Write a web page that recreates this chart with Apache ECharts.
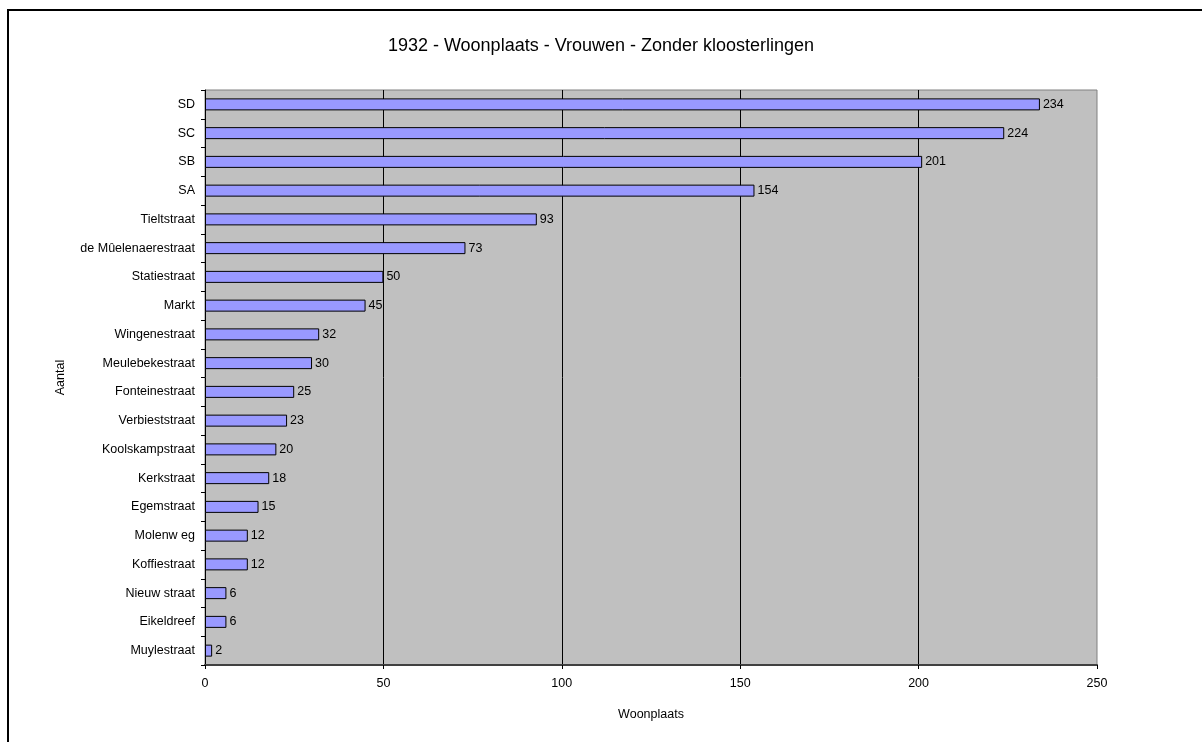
<!DOCTYPE html>
<html>
<head>
<meta charset="utf-8">
<title>1932 - Woonplaats - Vrouwen</title>
<script src="https://cdn.jsdelivr.net/npm/echarts@6/dist/echarts.min.js"></script>
<style>
  html, body { margin: 0; padding: 0; background: #fff; }
  #chart { width: 1202px; height: 742px; }
</style>
</head>
<body>
<div id="chart"></div>
<script>
// straten, van boven naar onder
var straten = [
  "SD", "SC", "SB", "SA", "Tieltstraat", "de Mûelenaerestraat", "Statiestraat",
  "Markt", "Wingenestraat", "Meulebekestraat", "Fonteinestraat", "Verbieststraat",
  "Koolskampstraat", "Kerkstraat", "Egemstraat", "Molenw eg", "Koffiestraat",
  "Nieuw straat", "Eikeldreef", "Muylestraat"
];
// aantal vrouwen per straat
var aantallen = [234, 224, 201, 154, 93, 73, 50, 45, 32, 30, 25, 23, 20, 18, 15, 12, 12, 6, 6, 2];
// schaal van de x-as
var asMin = 0;
var asMax = 250;
var asStap = 50;

var fontNaam = "'Liberation Sans', Arial, sans-serif";

var myChart = echarts.init(document.getElementById("chart"));

var option = {
  backgroundColor: "#ffffff",
  animation: false,
  // buitenkader rond de grafiek
  graphic: [
    {
      type: "rect",
      shape: { x: 8, y: 10, width: 1300, height: 800 },
      style: { fill: "none", stroke: "#000", lineWidth: 2 },
      silent: true
    }
  ],
  title: {
    text: "1932 - Woonplaats - Vrouwen - Zonder kloosterlingen",
    left: "center",
    top: 32,
    textStyle: { fontFamily: fontNaam, fontSize: 18, fontWeight: "normal", color: "#000" }
  },
  grid: {
    left: 205,
    top: 90,
    width: 892,
    height: 575,
    show: true,
    backgroundColor: "#c0c0c0",
    borderColor: "#808080",
    borderWidth: 1
  },
  xAxis: {
    type: "value",
    min: asMin,
    max: asMax,
    interval: asStap,
    name: "Woonplaats",
    nameLocation: "middle",
    nameGap: 43,
    nameTextStyle: { fontFamily: fontNaam, fontSize: 12.5, color: "#000" },
    axisLine: { show: true, lineStyle: { color: "#404040", width: 2 } },
    axisTick: { show: true, length: 4, lineStyle: { color: "#000" } },
    axisLabel: { fontFamily: fontNaam, fontSize: 12.5, color: "#000", margin: 12 },
    splitLine: { show: true, showMinLine: false, showMaxLine: false, lineStyle: { color: "#000", width: 1 } }
  },
  yAxis: {
    type: "category",
    data: straten,
    inverse: true,
    name: "Aantal",
    nameLocation: "middle",
    nameGap: 138,
    nameRotate: 90,
    nameTextStyle: { fontFamily: fontNaam, fontSize: 12.5, color: "#000" },
    axisLine: { show: true, lineStyle: { color: "#000", width: 1 } },
    axisTick: { show: true, length: 4, lineStyle: { color: "#000" } },
    axisLabel: { fontFamily: fontNaam, fontSize: 12.5, color: "#000", margin: 10 },
    splitLine: { show: false }
  },
  series: [
    {
      type: "bar",
      data: aantallen,
      barWidth: 12,
      itemStyle: { color: "#9999ff", borderColor: "#000", borderWidth: 1 },
      label: {
        show: true,
        position: "right",
        distance: 3,
        fontFamily: fontNaam,
        fontSize: 12.5,
        color: "#000"
      }
    }
  ]
};

myChart.setOption(option);
</script>
</body>
</html>
